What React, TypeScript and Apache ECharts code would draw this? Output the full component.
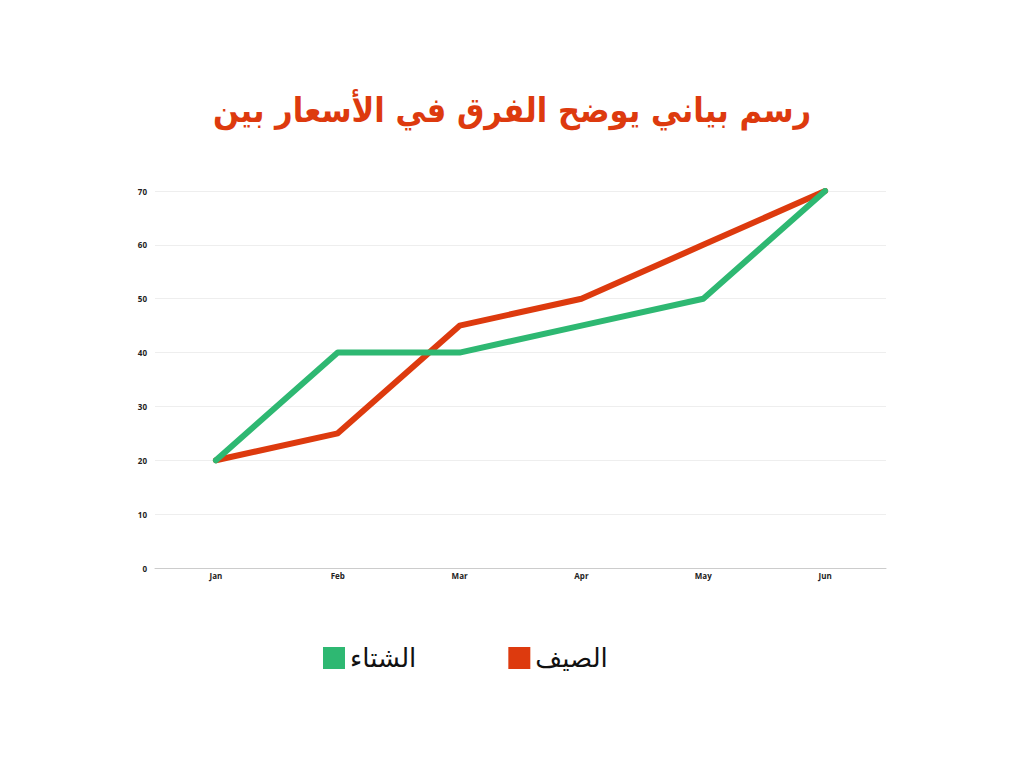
import React, { useEffect, useRef } from "react";
import * as echarts from "echarts";

const months = ["Jan", "Feb", "Mar", "Apr", "May", "Jun"];
const summer = [20, 25, 45, 50, 60, 70];
const winter = [20, 40, 40, 45, 50, 70];
const titleText = "رسم بياني يوضح الفرق في الأسعار بين";
const summerName = "الصيف";
const winterName = "الشتاء";

export default function App() {
  const ref = useRef<HTMLDivElement>(null);
  useEffect(() => {
    const chart = echarts.init(ref.current!, null, { renderer: "svg" });
    chart.setOption({
      animation: false,
      backgroundColor: "#ffffff",
      title: {
        text: titleText,
        left: "center",
        top: 88,
        textStyle: {
          fontFamily: "DejaVu Sans Condensed",
          fontWeight: "bold",
          fontSize: 34,
          color: "#DD3A0E",
        },
      },
      legend: {
        data: [winterName, summerName],
        left: 318,
        top: 640,
        itemWidth: 22,
        itemHeight: 22,
        itemGap: 92,
        icon: "rect",
        textStyle: { fontFamily: "DejaVu Sans", fontSize: 26, color: "#111" },
      },
      grid: { left: 155, right: 138, top: 191, bottom: 200 },
      xAxis: {
        type: "category",
        data: months,
        boundaryGap: true,
        axisLine: { lineStyle: { color: "#cccccc", width: 1 } },
        axisTick: { show: false },
        axisLabel: { fontFamily: "Open Sans", fontWeight: "bold", fontSize: 8, color: "#222", margin: 3 },
      },
      yAxis: {
        type: "value",
        min: 0,
        max: 70,
        interval: 10,
        axisLine: { show: false },
        axisTick: { show: false },
        splitLine: { lineStyle: { color: "#eeeeee", width: 1 } },
        axisLabel: { fontFamily: "Open Sans", fontWeight: "bold", fontSize: 8, color: "#222", margin: 8 },
      },
      series: [
        {
          name: summerName,
          type: "line",
          data: summer,
          symbol: "none",
          itemStyle: { color: "#DD3A0E" },
          lineStyle: { color: "#DD3A0E", width: 6, cap: "round", join: "round" },
        },
        {
          name: winterName,
          type: "line",
          data: winter,
          symbol: "none",
          itemStyle: { color: "#2EB872" },
          lineStyle: { color: "#2EB872", width: 6, cap: "round", join: "round" },
        },
      ],
    });
    return () => chart.dispose();
  }, []);
  return <div ref={ref} style={{ width: 1024, height: 768, position: "absolute", left: 0, top: 0 }} />;
}
